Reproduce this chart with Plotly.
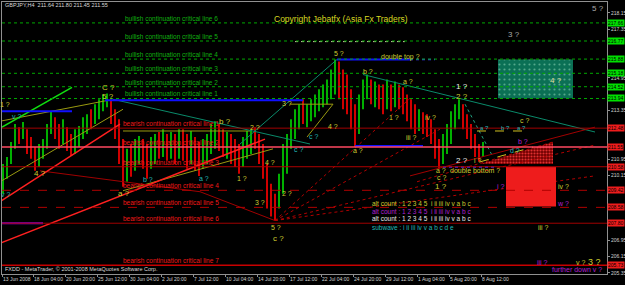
import plotly.graph_objects as go

# ---------------- data ----------------
time_labels = ["13 Jun 2008", "18 Jun 04:00", "20 Jun 20:00", "25 Jun 12:00", "30 Jun 04:00",
               "2 Jul 20:00", "7 Jul 12:00", "10 Jul 04:00", "14 Jul 20:00", "17 Jul 12:00",
               "22 Jul 04:00", "24 Jul 20:00", "29 Jul 12:00", "1 Aug 04:00", "5 Aug 20:00",
               "8 Aug 12:00"]
time_label_bars = [-0.25, 7.5, 15.5, 23.5, 31.5, 39.5, 47.5, 55.5, 63.5, 71.5, 79.5, 87.5,
                   95.5, 103.5, 111.5, 119.5]
price_ticks = [218.15, 217.35, 216.55, 215.75, 214.95, 214.15, 213.35, 212.55, 211.75,
               210.95, 210.15, 209.35, 208.55, 207.75, 206.95, 206.15, 205.35]

bar_high = [210.72, 211.06, 211.80, 212.68, 212.53, 212.78, 212.43, 212.04, 211.55, 211.70,
            211.94, 212.68, 213.31, 213.02, 212.68, 212.92, 212.53, 212.19, 212.43, 212.58,
            213.02, 213.17, 213.41, 213.66, 213.90, 214.14, 214.19, 213.90, 213.41, 212.92,
            211.94, 211.46, 211.70, 211.94, 212.09, 211.94, 211.70, 212.04, 212.19, 212.29,
            212.43, 212.19, 212.29, 212.19, 212.43, 212.43, 212.19, 212.34, 212.04, 211.80,
            211.94, 212.19, 212.68, 212.82, 212.68, 212.43, 212.29, 212.19, 211.94, 211.70,
            212.04, 212.34, 212.43, 212.53, 212.19, 211.70, 210.72, 209.74, 209.25, 210.23,
            211.70, 212.19, 212.92, 213.41, 213.66, 213.90, 213.66, 213.90, 214.14, 214.39,
            214.63, 214.88, 215.37, 215.86, 215.76, 215.37, 215.12, 214.39, 213.66, 214.14,
            214.88, 215.12, 214.88, 214.78, 214.63, 214.63, 214.88, 214.63, 214.78, 214.63,
            214.49, 214.14, 213.90, 213.66, 213.41, 213.26, 213.17, 212.92, 212.43, 211.94,
            212.19, 212.68, 213.31, 213.66, 213.90, 213.66, 213.17, 212.68, 212.19, 211.70,
            211.80]
bar_low = [209.25, 209.99, 210.72, 211.46, 211.70, 211.94, 211.21, 210.97, 210.38, 210.57,
           210.97, 211.46, 212.19, 211.94, 211.46, 211.70, 211.36, 211.11, 211.21, 211.55,
           211.94, 212.19, 212.43, 212.68, 212.92, 213.31, 213.51, 212.68, 211.94, 210.72,
           209.60, 209.84, 210.09, 210.38, 210.72, 210.48, 209.99, 210.48, 210.72, 210.97,
           211.06, 210.87, 210.97, 210.72, 210.97, 210.87, 210.48, 210.72, 210.38, 210.13,
           210.48, 210.72, 211.21, 211.46, 211.36, 211.06, 210.97, 210.72, 210.57, 210.23,
           210.57, 210.97, 211.21, 211.46, 210.72, 209.99, 208.52, 208.13, 207.93, 208.52,
           209.25, 210.23, 211.46, 211.94, 212.43, 212.68, 212.53, 212.82, 213.02, 213.31,
           213.51, 213.66, 213.90, 214.14, 213.90, 213.41, 213.17, 212.43, 211.55, 212.19,
           213.41, 213.90, 213.66, 213.51, 213.41, 213.17, 213.41, 213.31, 213.51, 213.41,
           213.17, 212.82, 212.43, 212.19, 212.34, 212.19, 212.04, 211.70, 210.97, 210.48,
           210.72, 211.21, 211.70, 212.43, 212.92, 212.43, 211.94, 211.46, 211.06, 210.82,
           211.06]
bar_dir = ("uuuudu" "ddd" "uuuu" "ddudd" "uuuuduuuu" "dddd" "uduud" "duudu" "dudud" "duddu"
           "uuu" "dduddd" "uuud" "ddddd" "uuuuuud" "uuuuuuuu" "ddddd" "uuu" "duddududdd"
           "dduddddd" "uuuuu" "dddddu")

bull_levels = [213.94, 214.52, 215.18, 215.88, 216.77, 217.66]
bear_levels = [212.48, 211.55, 210.58, 209.42, 208.58, 207.80, 205.73]

# trend lines: (bar0, price0, bar1, price1)
lime_lines = [(-0.75, 212.48, 17.25, 214.49)]
olive_lines = [(-0.75, 212.82, 26.25, 213.85), (-0.75, 209.84, 30.0, 213.41),
               (30.0, 212.34, 61.75, 212.34), (30.0, 209.40, 67.5, 211.46),
               (76.0, 212.04, 82.5, 213.66), (71.75, 213.66, 82.5, 213.66)]
red_lines = [(-0.75, 208.86, 29.25, 212.68), (-0.75, 206.81, 65.5, 211.94)]
darkred_lines = [(9.25, 210.38, 49.25, 209.35), (49.25, 209.35, 68.0, 207.93),
                 (101.75, 210.13, 148.0, 212.53)]
fan_lines = [(68.0, 207.93, 101.75, 213.95), (68.0, 207.93, 109.25, 212.43),
             (68.0, 207.93, 148.0, 211.65), (68.0, 207.93, 148.0, 210.13),
             (103.5, 209.84, 137.5, 211.80)]
teal_lines = [(27.5, 213.90, 76.75, 211.70), (59.25, 211.70, 83.5, 215.86),
              (90.0, 215.12, 148.0, 212.29)]
teal_dotted = [(115.5, 213.66, 122.5, 211.06)]
blue_lines = [(-0.75, 213.31, 17.25, 213.31), (25.5, 213.85, 75.0, 213.85),
              (83.5, 215.86, 101.75, 215.86), (88.0, 211.60, 105.0, 211.60)]
blue_dotted = [(101.75, 215.86, 108.0, 215.86), (110.0, 210.57, 123.5, 210.57)]
violet_lines = [(-0.25, 207.80, 10.0, 207.80)]
yellow_dotted = [(118.5, 212.34, 131.25, 212.34), (119.25, 210.82, 132.5, 211.55)]
pale_dotted = [(73.0, 216.74, 100.5, 216.74)]

green_box = (123.75, 213.95, 142.5, 215.86)
red_box = (125.75, 208.62, 138.25, 210.57)
hatch_bars = [119.25, 137.5, 137.5, 119.25]
hatch_prices = [210.72, 211.80, 210.72, 210.72]

# wave labels: (text, bar, price, colour key, size)
wave_labels = [
    ("5 ?", 148.75, 218.35, "grey", 8), ("3 ?", 127.75, 217.08, "grey", 8),
    ("4 ?", 138.25, 214.83, "lyel", 8), ("1 ?", 114.75, 214.54, "white", 8),
    ("2 ?", 114.75, 214.05, "yel", 8), ("double top ?", 99.25, 216.00, "yel", 7),
    ("5 ?", 84.0, 216.15, "yel", 7), ("b ?", 91.25, 215.27, "yel", 7),
    ("a ?", 101.25, 214.78, "yel", 7), ("C ?", 26.25, 214.49, "yel", 8),
    ("5 ?", 26.25, 214.05, "yel", 8), ("1 ?", 0.5, 213.66, "yel", 7),
    ("v ?", 3.25, 213.07, "cyan", 7), ("4 ?", 9.25, 210.23, "yel", 8),
    ("a ?", 30.25, 209.28, "yel", 8), ("b ?", 36.25, 209.97, "cyan", 7),
    ("a ?", 50.25, 209.99, "cyan", 7), ("v ?", 0.6, 209.20, "cyan", 7),
    ("b ?", 55.5, 212.80, "yel", 8), ("2 ?", 63.0, 212.53, "yel", 7),
    ("1 ?", 59.75, 209.99, "yel", 7), ("4 ?", 66.75, 210.77, "yel", 7),
    ("3 ?", 64.25, 208.81, "yel", 7), ("2 ?", 71.0, 209.25, "yel", 7),
    ("5 ?", 68.25, 207.59, "yel", 7), ("c ?", 68.75, 207.05, "yel", 8),
    ("3 ?", 71.0, 213.70, "yel", 7), ("c ?", 73.75, 211.41, "cyan", 7),
    ("c ?", 77.5, 212.09, "cyan", 7), ("4 ?", 82.5, 212.58, "yel", 7),
    ("a ?", 88.75, 211.36, "yel", 7), ("1 ?", 97.75, 213.02, "yel", 7),
    ("iii ?", 102.0, 212.04, "yel", 7), ("iv ?", 106.75, 213.02, "yel", 7),
    ("a ?", 109.5, 210.38, "yel", 7), ("c ?", 109.5, 210.04, "yel", 7),
    ("1 ?", 109.5, 209.60, "yel", 8), ("2 ?", 114.75, 210.87, "white", 8),
    ("i ?", 118.75, 210.87, "yel", 7), ("a ?", 120.25, 212.48, "cyan", 6),
    ("b ?", 125.5, 212.48, "cyan", 6), ("a ?", 129.5, 212.48, "cyan", 6),
    ("c ?", 130.25, 212.87, "yel", 7), ("b ?", 130.0, 211.80, "mag", 7),
    ("d ?", 128.0, 211.36, "cyan", 7), ("double bottom ?", 118.0, 210.38, "yel", 7),
    ("i ?", 124.5, 209.60, "mag", 7), ("iv ?", 140.0, 209.60, "yel", 7),
    ("w ?", 140.0, 208.76, "mag", 7), ("iii ?", 135.0, 207.59, "yel", 7),
    ("iii ?", 134.75, 205.88, "mag", 7), ("v ?", 144.25, 205.88, "yel", 7),
    ("3 ?", 147.75, 205.90, "yel", 9), ("further down v ?", 143.5, 205.50, "mag", 7),
]
legend_lines = [("alt count : 1 2 3 4 5  i ii iii iv v a b c", 208.77, "yel"),
                ("alt count : 1 2 3 4 5  i ii iii iv v a b c", 208.37, "mag"),
                ("alt count : 1 2 3 4 5  i ii iii iv v a b c", 208.03, "white"),
                ("subwave : i ii iii iv v a b c d e", 207.59, "cyan")]
legend_bar = 91.75

# ---------------- styling ----------------
FONT = "Liberation Sans, Arial, sans-serif"
COL = {"yel": "#cccc30", "lyel": "#e0e0a0", "white": "#e8e8e8", "grey": "#a8a8a8",
       "cyan": "#20b8b8", "mag": "#b020d0"}
UP, DOWN = "#00b000", "#d00000"
XR = [-0.25, 151.0]
YR = [205.30, 218.69]

fig = go.Figure()

# price bars
for key, colr in (("u", UP), ("d", DOWN)):
    xs, ys = [], []
    for i, (h, l, d) in enumerate(zip(bar_high, bar_low, bar_dir)):
        if d == key:
            xs += [i, i, None]
            ys += [l, h, None]
    fig.add_trace(go.Scatter(x=xs, y=ys, mode="lines", line=dict(color=colr, width=2),
                             hoverinfo="skip", showlegend=False))

# boxes
gx0, gy0, gx1, gy1 = green_box
fig.add_trace(go.Scatter(x=[gx0, gx1, gx1, gx0, gx0], y=[gy0, gy0, gy1, gy1, gy0],
                         mode="lines", line=dict(width=0), fill="toself",
                         fillcolor="#0b7055",
                         fillpattern=dict(shape=".", bgcolor="#0b7055", fgcolor="#52a88a",
                                          size=5, solidity=0.15),
                         hoverinfo="skip", showlegend=False))
fig.add_trace(go.Scatter(x=hatch_bars, y=hatch_prices, mode="lines", line=dict(width=0),
                         fill="toself", fillcolor="#7a0000",
                         fillpattern=dict(shape=".", bgcolor="#700000", fgcolor="#e03030",
                                          size=3, solidity=0.4),
                         hoverinfo="skip", showlegend=False))
rx0, ry0, rx1, ry1 = red_box
fig.add_shape(type="rect", x0=rx0, x1=rx1, y0=ry0, y1=ry1, fillcolor="#ee1c1c",
              line=dict(width=0), layer="above")

# horizontal levels
for lv in bull_levels:
    fig.add_shape(type="line", xref="paper", x0=0, x1=1, y0=lv, y1=lv,
                  line=dict(color="#00a800", width=1, dash="dot"))
bear_styles = [("#a00000", "solid", 1), ("#ff4860", "solid", 1.5), ("#b00000", "solid", 1),
               ("#b00000", "dash", 1), ("#b00000", "dash", 1), ("#a00000", "solid", 1),
               ("#c80000", "solid", 1.5)]
for lv, (c, dsh, w) in zip(bear_levels, bear_styles):
    fig.add_shape(type="line", xref="paper", x0=0, x1=1, y0=lv, y1=lv,
                  line=dict(color=c, width=w, dash=dsh))


def add_lines(lines, color, width=1, dash="solid"):
    xs, ys = [], []
    for x0, y0, x1, y1 in lines:
        xs += [x0, x1, None]
        ys += [y0, y1, None]
    fig.add_trace(go.Scatter(x=xs, y=ys, mode="lines",
                             line=dict(color=color, width=width, dash=dash),
                             hoverinfo="skip", showlegend=False))


add_lines(olive_lines, "#9a9a10", 1)
add_lines(teal_lines, "#0a8a6a", 1)
add_lines(teal_dotted, "#20a080", 1, "dot")
add_lines(darkred_lines, "#a00000", 1)
add_lines(fan_lines, "#b00000", 1, "dot")
add_lines(red_lines, "#ff2020", 1.5)
add_lines(lime_lines, "#10e010", 1.5)
add_lines(blue_lines, "#1010ff", 2)
add_lines(blue_dotted, "#3030ff", 1.5, "dot")
add_lines(violet_lines, "#8a00e0", 2)
add_lines(yellow_dotted, "#d0c020", 1, "dash")
add_lines(pale_dotted, "#c8c8a0", 1, "dot")

ann = []
for i, lv in enumerate(bull_levels):
    ann.append(dict(x=30.25, y=lv, xref="x", yref="y", xanchor="left", yanchor="bottom",
                    text=f"bullish continuation critical line {i + 1}", showarrow=False,
                    font=dict(family=FONT, size=6.5, color="#10b010"), borderpad=0))
    ann.append(dict(x=1, y=lv, xref="paper", yref="y", xanchor="left", yanchor="middle",
                    xshift=0, text=f"{lv:.2f}", showarrow=False, bgcolor="#00e000",
                    font=dict(family=FONT, size=5, color="#000000"), borderpad=0))
for i, lv in enumerate(bear_levels):
    ann.append(dict(x=29.75, y=lv, xref="x", yref="y", xanchor="left", yanchor="bottom",
                    text=f"bearish continuation critical line {i + 1}", showarrow=False,
                    font=dict(family=FONT, size=6.5, color="#f01818"), borderpad=0))
    ann.append(dict(x=1, y=lv, xref="paper", yref="y", xanchor="left", yanchor="middle",
                    xshift=0, text=f"{lv:.2f}", showarrow=False, bgcolor="#ee1c1c",
                    font=dict(family=FONT, size=5, color="#000000"), borderpad=0))

for txt, bx, pr, ck, sz in wave_labels:
    ann.append(dict(x=bx, y=pr, xref="x", yref="y", text=txt, showarrow=False,
                    font=dict(family=FONT, size=sz, color=COL[ck])))
for txt, pr, ck in legend_lines:
    ann.append(dict(x=legend_bar, y=pr, xref="x", yref="y", xanchor="left", text=txt,
                    showarrow=False, font=dict(family=FONT, size=6.5, color=COL[ck])))

ann.append(dict(x=0.0, y=218.55, xref="x", yref="y", xanchor="left",
                text="GBPJPY,H4  211.64 211.80 211.45 211.55", showarrow=False,
                font=dict(family=FONT, size=5.5, color="#d8d8d8")))
ann.append(dict(x=84.5, y=217.86, xref="x", yref="y",
                text="Copyright Jebatfx (Asia Fx Traders)", showarrow=False,
                font=dict(family=FONT, size=8.5, color="#d8d820")))
ann.append(dict(x=0.0, y=205.54, xref="x", yref="y", xanchor="left",
                text="FXDD - MetaTrader, © 2001-2008 MetaQuotes Software Corp.",
                showarrow=False, font=dict(family=FONT, size=5.5, color="#d8d8d8")))

# price-scale labels that the coloured level tags cover are left out
levels_all = bull_levels + bear_levels
shown_ticks = [p for p in price_ticks if min(abs(p - lv) for lv in levels_all) > 0.22]

fig.update_layout(
    width=625, height=285, margin=dict(l=2, r=18, t=2, b=11),
    paper_bgcolor="#000000", plot_bgcolor="#000000", template="none",
    showlegend=False, annotations=ann,
    xaxis=dict(range=XR, showgrid=False, zeroline=False, showline=True, linecolor="#909090",
               mirror=True, ticks="outside", ticklen=2, tickcolor="#909090",
               tickvals=time_label_bars, ticktext=time_labels, tickangle=0,
               ticklabelposition="outside right", automargin=False, ticklabelstandoff=0,
               tickfont=dict(family=FONT, size=5, color="#d0d0d0")),
    yaxis=dict(range=YR, side="right", showgrid=False, zeroline=False, showline=True,
               linecolor="#909090", mirror=True, ticks="outside", ticklen=2,
               tickcolor="#909090", tickvals=shown_ticks, ticklabelstandoff=0,
               ticktext=[f"{p:.2f}" for p in shown_ticks], automargin=False,
               tickfont=dict(family=FONT, size=5, color="#d0d0d0")),
)
fig.write_html("out.html")
